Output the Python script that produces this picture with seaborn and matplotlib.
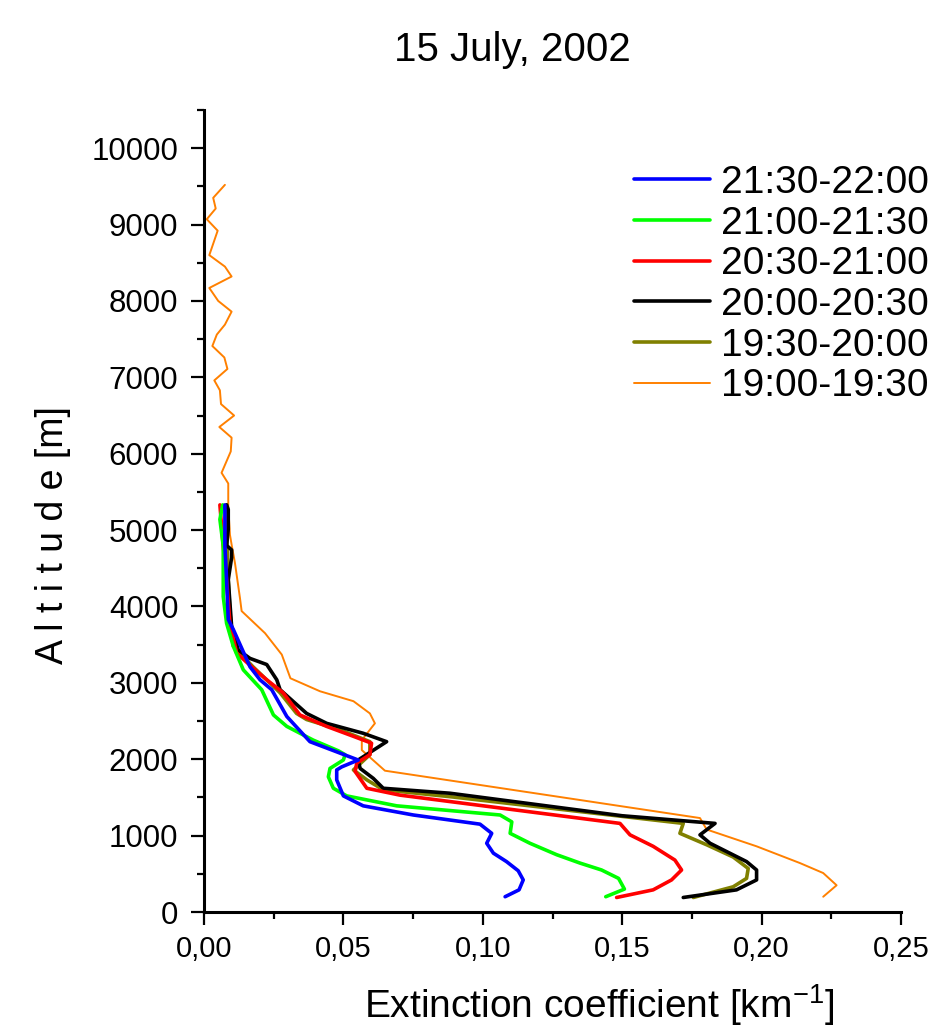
import matplotlib
matplotlib.use("Agg")
import matplotlib.pyplot as plt
import seaborn as sns
from matplotlib.ticker import MultipleLocator

# ---------------- data ----------------
series_names = ["21:30-22:00", "21:00-21:30", "20:30-21:00",
                "20:00-20:30", "19:30-20:00", "19:00-19:30"]

blue_ext = [0.108, 0.113, 0.1145, 0.1127, 0.1085, 0.1038, 0.1014, 0.1032, 0.099,
            0.0751, 0.0571, 0.050, 0.0476, 0.0476, 0.0494, 0.0553, 0.038, 0.0297,
            0.0243, 0.0201, 0.0165, 0.0105, 0.0087, 0.0081, 0.0075, 0.0075]
blue_alt = [200, 290, 420, 540, 660, 770, 900, 1030, 1150,
            1270, 1390, 1520, 1730, 1860, 1900, 1990, 2230, 2560,
            2910, 3040, 3210, 3700, 3830, 4350, 4790, 5330]

green_ext = [0.1441, 0.1508, 0.1487, 0.1426, 0.1349, 0.1265, 0.1169, 0.1098, 0.1104,
             0.1062, 0.0691, 0.0512, 0.0464, 0.0446, 0.0452, 0.0500, 0.0506, 0.0482,
             0.0392, 0.0297, 0.0249, 0.0207, 0.0141, 0.0105, 0.0081, 0.0069, 0.0069,
             0.0057, 0.0067]
green_alt = [200, 300, 440, 550, 640, 750, 900, 1030, 1180,
             1270, 1390, 1520, 1620, 1770, 1880, 1990, 2060, 2110,
             2250, 2430, 2580, 2910, 3170, 3480, 3780, 4130, 4790,
             5140, 5330]

red_ext = [0.148, 0.1611, 0.1677, 0.1713, 0.1689, 0.1611, 0.1528, 0.1492, 0.0703,
           0.0584, 0.0542, 0.0548, 0.0595, 0.0601, 0.0536, 0.0440, 0.0344, 0.0284,
           0.0225, 0.0171, 0.0117, 0.0093, 0.0081, 0.0069, 0.0057]
red_alt = [190, 290, 420, 550, 680, 860, 1010, 1160, 1530,
           1620, 1840, 1950, 2060, 2210, 2300, 2430, 2580, 2870,
           3040, 3210, 3390, 3780, 4350, 4790, 5330]

black_ext = [0.1719, 0.1910, 0.1982, 0.1982, 0.1946, 0.1815, 0.1779, 0.1833, 0.150,
             0.0882, 0.0643, 0.0607, 0.0560, 0.0553, 0.0655, 0.0571, 0.0440, 0.0368,
             0.0273, 0.0261, 0.0225, 0.0165, 0.0123, 0.0099, 0.0087, 0.0099, 0.0099,
             0.0081, 0.0087, 0.0087, 0.0081]
black_alt = [190, 290, 420, 550, 660, 900, 1010, 1160, 1260,
             1555, 1620, 1750, 1880, 1990, 2230, 2340, 2470, 2600,
             2910, 3040, 3240, 3320, 3430, 3740, 4350, 4640, 4740,
             4800, 5010, 5270, 5330]

olive_ext = [0.1755, 0.1898, 0.1946, 0.1952, 0.1898, 0.1803, 0.1707, 0.1719, 0.0882,
             0.0643, 0.0584, 0.0536, 0.0595, 0.0595, 0.0488, 0.0368, 0.0332, 0.0273,
             0.0176, 0.0105, 0.0093, 0.0087, 0.0081, 0.0081]
olive_alt = [190, 330, 440, 570, 720, 880, 1030, 1160, 1510,
             1600, 1730, 1860, 2060, 2230, 2385, 2520, 2600, 2870,
             3210, 3480, 3920, 4350, 5010, 5330]

orange_ext = [0.2221, 0.2269, 0.2221, 0.2138, 0.1982, 0.1803, 0.1779, 0.0649, 0.0566,
              0.0566, 0.0613, 0.0595, 0.0536, 0.0416, 0.031, 0.0279, 0.0219, 0.0135,
              0.0129, 0.0111, 0.0099, 0.0093, 0.0087, 0.0087, 0.0063, 0.0096, 0.0099,
              0.0055, 0.0108, 0.0061, 0.0057, 0.0037, 0.0084, 0.0073, 0.0030, 0.0046,
              0.0075, 0.0099, 0.0051, 0.0019, 0.0099, 0.0075, 0.0019, 0.0049, 0.0010,
              0.0042, 0.0033, 0.0075]
orange_alt = [200, 350, 510, 640, 860, 1080, 1230, 1850, 2120,
              2250, 2470, 2600, 2760, 2890, 3060, 3370, 3650, 3940,
              4110, 4570, 4810, 4940, 5310, 5610, 5750, 6030, 6210,
              6350, 6500, 6650, 6830, 6960, 7110, 7260, 7410, 7560,
              7690, 7860, 8000, 8170, 8320, 8450, 8600, 8920, 9070,
              9210, 9350, 9520]

xticks = [0.00, 0.05, 0.10, 0.15, 0.20, 0.25]
xtick_labels = ["0,00", "0,05", "0,10", "0,15", "0,20", "0,25"]
yticks = [0, 1000, 2000, 3000, 4000, 5000, 6000, 7000, 8000, 9000, 10000]
ytick_labels = ["0", "1000", "2000", "3000", "4000", "5000",
                "6000", "7000", "8000", "9000", "10000"]

# ---------------- style ----------------
sns.set_style("ticks")
plt.rcParams["font.family"] = ["Liberation Sans", "DejaVu Sans"]
plt.rcParams["mathtext.fontset"] = "custom"
plt.rcParams["mathtext.rm"] = "Liberation Sans"
plt.rcParams["mathtext.it"] = "Liberation Sans"
plt.rcParams["mathtext.bf"] = "Liberation Sans:bold"
for key in ("text.color", "axes.labelcolor", "xtick.color", "ytick.color",
            "axes.edgecolor"):
    plt.rcParams[key] = "black"

fig = plt.figure(figsize=(9.29, 10.31), dpi=100)
ax = fig.add_axes([204 / 929, 1 - 912 / 1031, 697 / 929, 802 / 1031])

# draw order: orange first, blue last
plot_specs = [
    (orange_ext, orange_alt, series_names[5], "#FF8000", 1.4),
    (olive_ext, olive_alt, series_names[4], "#808000", 2.6),
    (black_ext, black_alt, series_names[3], "#000000", 2.6),
    (red_ext, red_alt, series_names[2], "#FF0000", 2.6),
    (green_ext, green_alt, series_names[1], "#00FF00", 2.6),
    (blue_ext, blue_alt, series_names[0], "#0000FF", 2.6),
]
for xs, ys, name, col, lw in plot_specs:
    sns.lineplot(x=xs, y=ys, sort=False, estimator=None, color=col,
                 linewidth=lw, label=name, ax=ax)

ax.set_xlim(0, 0.25)
ax.set_ylim(0, 10500)
ax.set_xticks(xticks)
ax.set_xticklabels(xtick_labels)
ax.set_yticks(yticks)
ax.set_yticklabels(ytick_labels)
ax.xaxis.set_minor_locator(MultipleLocator(0.025))
ax.yaxis.set_minor_locator(MultipleLocator(500))

sns.despine(ax=ax)
for sp in ("left", "bottom"):
    ax.spines[sp].set_linewidth(2.2)
ax.tick_params(axis="both", which="major", direction="out", length=9.5, width=1.6)
ax.tick_params(axis="both", which="minor", direction="out", length=5, width=1.6)
ax.tick_params(axis="x", which="major", labelsize=21, pad=7)
ax.tick_params(axis="y", which="major", labelsize=22.5, pad=9)

ax.set_xlabel("Extinction coefficient [km$^{-1}$]", fontsize=28)
ax.xaxis.set_label_coords(0.567, -0.088)
ax.set_ylabel("A l t i t u d e [m]", fontsize=27)
ax.yaxis.set_label_coords(-0.191, 0.47)

fig.text(512 / 929, 1 - 50 / 1031, "15 July, 2002", ha="center", va="center",
         fontsize=29)

handles, labels = ax.get_legend_handles_labels()
order = [labels.index(n) for n in series_names]
leg = ax.legend([handles[i] for i in order], [labels[i] for i in order],
                loc="upper left", bbox_to_anchor=(634 / 929, 1 - 165 / 1031),
                bbox_transform=fig.transFigure, frameon=False, fontsize=28,
                borderpad=0, borderaxespad=0, handlelength=1.95, handletextpad=0.28,
                labelspacing=0.12)

fig.savefig("out.png", dpi=100)
